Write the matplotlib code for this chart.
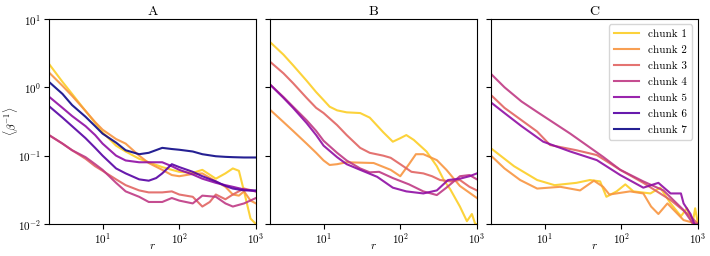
import numpy as np
import matplotlib
matplotlib.use("Agg")
import matplotlib.pyplot as plt

plt.rcParams["font.family"] = ["cmr10", "DejaVu Serif"]
plt.rcParams["mathtext.fontset"] = "cm"
plt.rcParams["axes.formatter.use_mathtext"] = True
plt.rcParams["axes.unicode_minus"] = False

# panel A: chunk -> (r, <beta^-1>)
panel_A = {
    1: ([2, 3, 4, 6, 8, 10, 15, 20, 30, 40, 60, 80, 100, 150, 200, 300, 400, 500, 600, 700, 850, 1000],
        [2.2, 1.2, 0.8, 0.45, 0.3, 0.22, 0.14, 0.115, 0.09, 0.08, 0.068, 0.062, 0.058, 0.056, 0.062, 0.046,
         0.055, 0.065, 0.06, 0.03, 0.012, 0.01]),
    2: ([2, 3, 4, 6, 8, 10, 15, 20, 30, 40, 60, 80, 100, 150, 200, 300, 400, 500, 600, 700, 850, 1000],
        [1.65, 1.05, 0.75, 0.45, 0.31, 0.24, 0.175, 0.15, 0.1, 0.078, 0.062, 0.052, 0.05, 0.054, 0.055,
         0.042, 0.035, 0.027, 0.026, 0.03, 0.022, 0.02]),
    3: ([2, 3, 4, 6, 8, 10, 15, 20, 30, 40, 60, 80, 100, 150, 200, 250, 300, 400, 500, 700, 1000],
        [0.2, 0.15, 0.12, 0.09, 0.07, 0.06, 0.045, 0.037, 0.031, 0.029, 0.029, 0.03, 0.027, 0.025, 0.018,
         0.021, 0.027, 0.023, 0.027, 0.033, 0.03]),
    4: ([2, 3, 4, 6, 8, 10, 15, 20, 30, 40, 60, 80, 100, 150, 200, 300, 400, 500, 700, 1000],
        [0.2, 0.15, 0.12, 0.095, 0.075, 0.062, 0.04, 0.03, 0.025, 0.021, 0.021, 0.024, 0.022, 0.02, 0.026,
         0.025, 0.02, 0.018, 0.02, 0.024]),
    5: ([2, 3, 4, 6, 8, 10, 15, 20, 30, 40, 60, 80, 100, 150, 200, 300, 400, 500, 700, 1000],
        [0.73, 0.5, 0.38, 0.27, 0.2, 0.15, 0.1, 0.085, 0.08, 0.08, 0.08, 0.07, 0.062, 0.053, 0.046, 0.04,
         0.037, 0.035, 0.032, 0.03]),
    6: ([2, 3, 4, 6, 8, 10, 15, 20, 30, 40, 50, 60, 80, 100, 150, 200, 300, 400, 500, 700, 1000],
        [0.53, 0.36, 0.27, 0.18, 0.13, 0.1, 0.065, 0.055, 0.045, 0.043, 0.047, 0.055, 0.075, 0.068, 0.058,
         0.05, 0.042, 0.036, 0.033, 0.031, 0.031]),
    7: ([2, 3, 4, 6, 8, 10, 15, 20, 30, 40, 60, 80, 100, 150, 200, 300, 400, 500, 700, 1000],
        [1.2, 0.8, 0.55, 0.37, 0.27, 0.21, 0.155, 0.12, 0.105, 0.11, 0.13, 0.125, 0.122, 0.115, 0.105,
         0.098, 0.096, 0.095, 0.094, 0.094]),
}

panel_B = {
    1: ([2, 3, 4, 6, 8, 10, 12, 15, 20, 30, 40, 60, 80, 100, 120, 150, 220, 300, 370, 450, 600, 740, 860, 950, 1000],
        [4.6, 3.0, 2.1, 1.25, 0.85, 0.65, 0.52, 0.46, 0.43, 0.42, 0.36, 0.22, 0.16, 0.18, 0.2, 0.17, 0.115,
         0.07, 0.044, 0.032, 0.018, 0.011, 0.014, 0.01, 0.01]),
    2: ([2, 3, 4, 6, 8, 10, 12, 15, 20, 30, 45, 75, 100, 130, 160, 200, 300, 400, 600, 1000],
        [0.47, 0.31, 0.23, 0.15, 0.11, 0.085, 0.073, 0.075, 0.08, 0.079, 0.078, 0.062, 0.05, 0.075, 0.105,
         0.105, 0.086, 0.062, 0.036, 0.024]),
    3: ([2, 3, 4, 6, 8, 10, 15, 20, 30, 40, 60, 75, 100, 140, 200, 260, 330, 450, 600, 800, 1000],
        [2.37, 1.6, 1.15, 0.7, 0.5, 0.42, 0.28, 0.2, 0.13, 0.11, 0.1, 0.093, 0.075, 0.058, 0.055, 0.05,
         0.044, 0.042, 0.044, 0.035, 0.031]),
    4: ([2, 3, 4, 6, 8, 10, 15, 20, 30, 40, 53, 80, 130, 200, 300, 400, 600, 800, 1000],
        [1.1, 0.72, 0.52, 0.33, 0.23, 0.165, 0.11, 0.085, 0.065, 0.057, 0.058, 0.047, 0.038, 0.03, 0.0265,
         0.034, 0.05, 0.052, 0.045]),
    5: ([2, 3, 4, 6, 8, 10, 15, 20, 30, 50, 80, 120, 200, 300, 420, 600, 800, 1000],
        [1.1, 0.7, 0.5, 0.3, 0.2, 0.14, 0.095, 0.075, 0.062, 0.049, 0.034, 0.03, 0.028, 0.031, 0.044,
         0.046, 0.05, 0.055]),
}

panel_C = {
    1: ([2, 4, 8, 13.5, 26, 39, 53, 64, 87, 113, 144, 240, 323, 440, 600, 720, 850, 920, 1000],
        [0.128, 0.07, 0.044, 0.037, 0.04, 0.044, 0.042, 0.025, 0.03, 0.038, 0.03, 0.028, 0.034, 0.02,
         0.013, 0.017, 0.01, 0.017, 0.01]),
    2: ([2, 3, 4.8, 8, 16, 29, 44, 58, 70, 130, 194, 245, 305, 400, 650, 1000],
        [0.1, 0.065, 0.044, 0.033, 0.035, 0.031, 0.043, 0.035, 0.027, 0.03, 0.028, 0.018, 0.014, 0.02,
         0.0114, 0.01]),
    3: ([2, 3, 5, 8, 11.8, 26, 48, 97, 194, 440, 800, 1000],
        [0.77, 0.5, 0.33, 0.225, 0.143, 0.12, 0.102, 0.062, 0.04, 0.0224, 0.013, 0.01]),
    4: ([2, 3, 5, 7.9, 21.6, 58, 97, 194, 355, 650, 870, 1000],
        [1.57, 1.0, 0.62, 0.44, 0.21, 0.096, 0.062, 0.042, 0.031, 0.016, 0.01, 0.01]),
    5: ([2, 3, 5, 9.6, 21.6, 48, 97, 194, 305, 440, 600, 650, 800, 900],
        [0.6, 0.42, 0.27, 0.16, 0.115, 0.086, 0.052, 0.034, 0.04, 0.028, 0.028, 0.02, 0.014, 0.01]),
}

titles = ["A", "B", "C"]
chunks = [1, 2, 3, 4, 5, 6, 7]
colors = plt.cm.plasma(np.linspace(0.9, 0.0, len(chunks)))

fig, axes = plt.subplots(1, 3, figsize=(7.1, 2.56), dpi=100, sharey=True)
fig.subplots_adjust(left=0.069, right=0.983, top=0.926, bottom=0.125, wspace=0.068)

handles = []
for ax, title, panel in zip(axes, titles, [panel_A, panel_B, panel_C]):
    for c, col in zip(chunks, colors):
        if c not in panel:
            continue
        r, v = panel[c]
        line, = ax.plot(r, v, color=col, lw=1.5, alpha=0.9, label=f"chunk {c}")
        if ax is axes[0]:
            handles.append(line)
    ax.set_xscale("log")
    ax.set_yscale("log")
    ax.set_xlim(2, 1000)
    ax.set_ylim(1e-2, 1e1)
    ax.minorticks_off()
    ax.set_title(title, fontsize=10, pad=3)
    ax.set_xlabel("$r$", fontsize=8)
    ax.xaxis.set_label_coords(0.5, -0.085)
    ax.tick_params(labelsize=8, length=3.5, width=0.8, pad=2)
    for s in ax.spines.values():
        s.set_linewidth(0.8)

axes[0].set_ylabel(r"$\langle\beta^{-1}\rangle$", fontsize=8)
axes[0].yaxis.set_label_coords(-0.14, 0.5)
axes[2].legend(handles=handles, loc="upper right", fontsize=8, handlelength=2.3,
               labelspacing=0.55, borderpad=0.45, framealpha=0.8)

fig.savefig("out.png", dpi=100)
